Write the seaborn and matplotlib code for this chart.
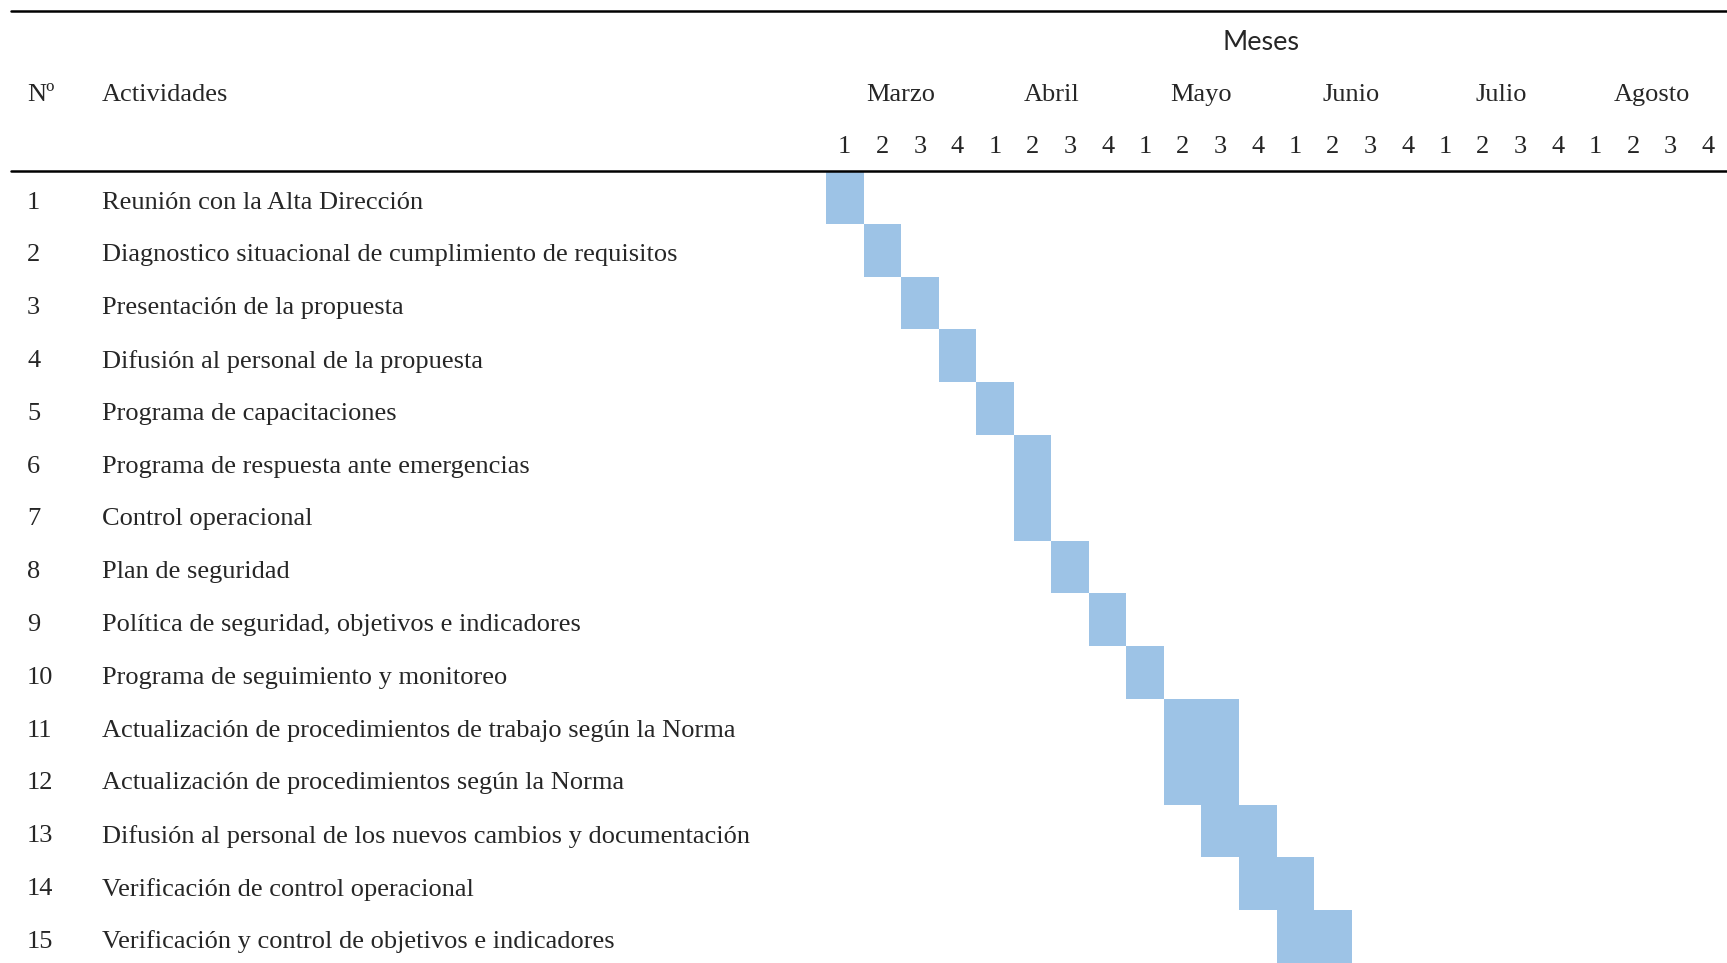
"""
Cronograma de actividades (diagrama de Gantt) dibujado como heatmap de seaborn.
"""

import numpy as np
import pandas as pd
import seaborn as sns
import matplotlib.pyplot as plt
from matplotlib import transforms
from matplotlib.colors import ListedColormap
from matplotlib.lines import Line2D

actividades = [
    "Reunión con la Alta Dirección",
    "Diagnostico situacional de cumplimiento de requisitos",
    "Presentación de la propuesta",
    "Difusión al personal de la propuesta",
    "Programa de capacitaciones",
    "Programa de respuesta ante emergencias",
    "Control operacional",
    "Plan de seguridad",
    "Política de seguridad, objetivos e indicadores",
    "Programa de seguimiento y monitoreo",
    "Actualización de procedimientos de trabajo según la Norma",
    "Actualización de procedimientos según la Norma",
    "Difusión al personal de los nuevos cambios y documentación",
    "Verificación de control operacional",
    "Verificación y control de objetivos e indicadores",
]
# semana de inicio (0 = semana 1 de Marzo) y duración en semanas
inicio = [0, 1, 2, 3, 4, 5, 5, 6, 7, 8, 9, 9, 10, 11, 12]
duracion = [1, 1, 1, 1, 1, 1, 1, 1, 1, 1, 2, 2, 2, 2, 2]
meses = ["Marzo", "Abril", "Mayo", "Junio", "Julio", "Agosto"]
semanas = ["1", "2", "3", "4"]

n_sem = len(meses) * len(semanas)
grid = np.zeros((len(actividades), n_sem))
for i, (s, d) in enumerate(zip(inicio, duracion)):
    grid[i, s:s + d] = 1
df = pd.DataFrame(grid, index=range(1, len(actividades) + 1),
                  columns=[f"{m}-{w}" for m in meses for w in semanas])

sns.set_style("white")
plt.rcParams["font.family"] = ["Liberation Serif", "DejaVu Serif"]

W, H = 1727, 963
fig = plt.figure(figsize=(W / 100, H / 100), dpi=100)
ax = fig.add_axes([826 / W, 0, 1 - 826 / W, 1 - 171 / H])

sns.heatmap(df, ax=ax, cmap=ListedColormap(["white", "#9DC3E6"]),
            vmin=0, vmax=1, cbar=False, linewidths=0)
ax.set_xticks([])
ax.set_yticks([])
ax.set_xlabel("")
ax.set_ylabel("")
for sp in ax.spines.values():
    sp.set_visible(False)

fs = 19
# encabezados sobre las columnas de semanas
xt = transforms.blended_transform_factory(ax.transData, fig.transFigure)
fig_y = lambda px: 1 - px / H
for j, m in enumerate(meses):
    ax.text(j * 4 + 2, fig_y(95), m, transform=xt, ha="center", va="center",
            fontsize=fs, clip_on=False)
    for k, w in enumerate(semanas):
        ax.text(j * 4 + k + 0.5, fig_y(147), w, transform=xt, ha="center",
                va="center", fontsize=fs, clip_on=False)
ax.text(11.6, fig_y(42), "Meses", transform=xt, ha="center", va="center",
        fontsize=19.5, family=["Lato", "DejaVu Sans"], clip_on=False)

# columnas de Nº y actividades
yt = transforms.blended_transform_factory(fig.transFigure, ax.transData)
fig.text(27 / W, fig_y(95), "Nº", ha="left", va="center", fontsize=fs)
fig.text(102 / W, fig_y(95), "Actividades", ha="left", va="center", fontsize=fs)
for i, act in enumerate(actividades):
    ax.text(27 / W, i + 0.6, str(i + 1), transform=yt, ha="left",
            va="center", fontsize=fs, clip_on=False)
    ax.text(102 / W, i + 0.6, act, transform=yt, ha="left",
            va="center", fontsize=fs, clip_on=False)

# líneas horizontales de la tabla
for ypx in (11, 171):
    fig.add_artist(Line2D([11 / W, 1], [fig_y(ypx)] * 2, color="black",
                          linewidth=1.8, transform=fig.transFigure))

fig.savefig("out.png", dpi=100)
plt.close(fig)
